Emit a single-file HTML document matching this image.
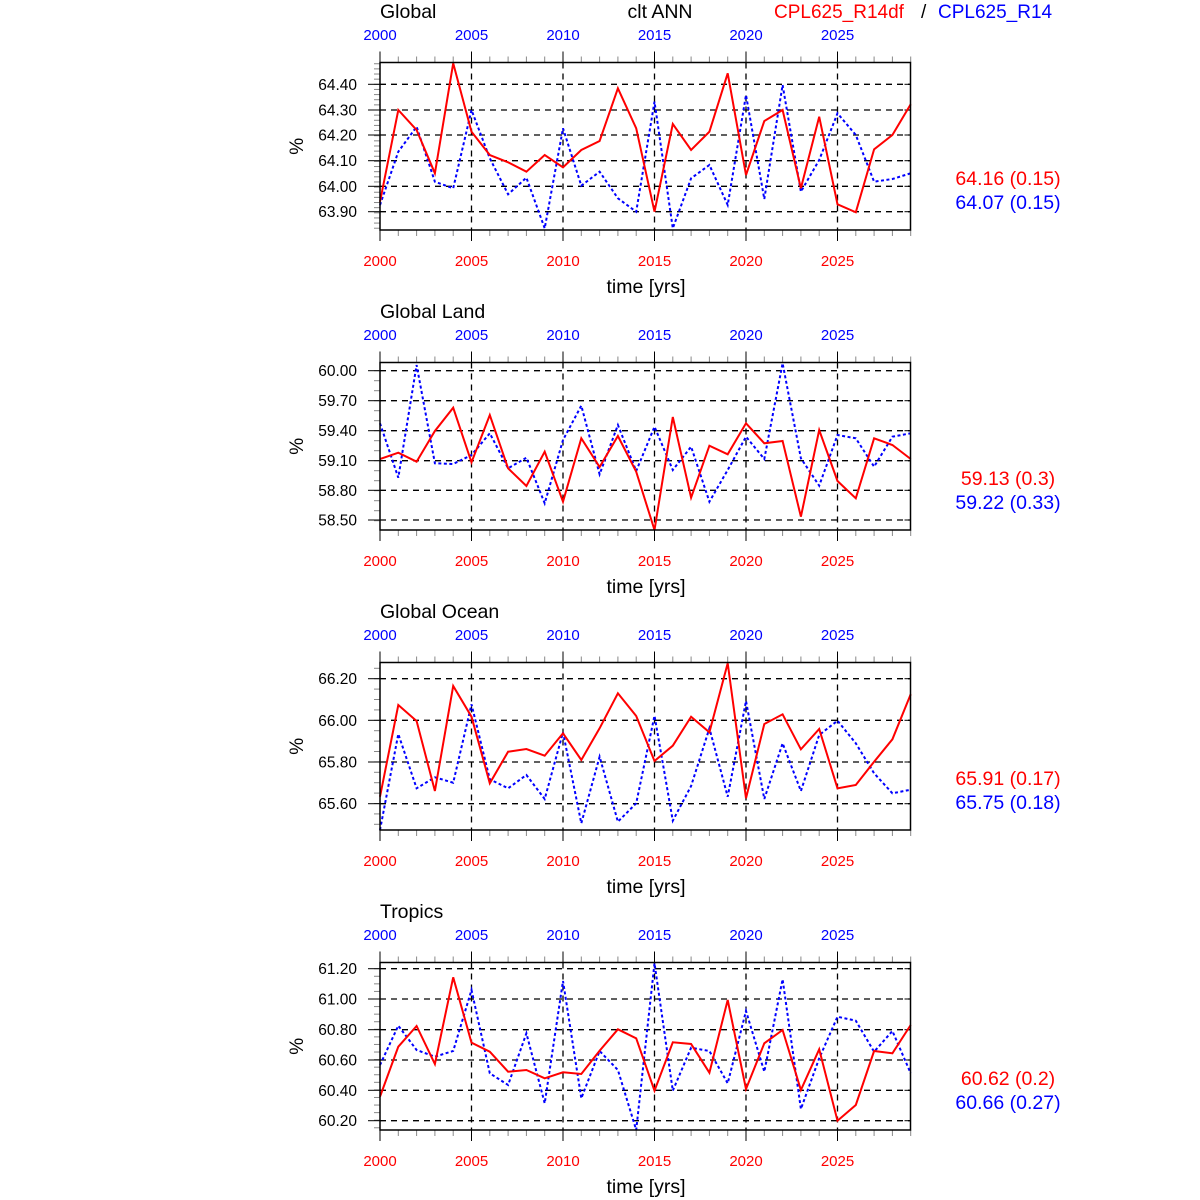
<!DOCTYPE html>
<html><head><meta charset="utf-8"><style>
html,body{margin:0;padding:0;background:#fff;}
svg{display:block;font-family:"Liberation Sans",Arial,sans-serif;}
</style></head><body>
<svg id="s" width="1200" height="1200" xmlns="http://www.w3.org/2000/svg">
<text x="380" y="18" font-size="19.5">Global</text>
<text x="660" y="18" font-size="19.5" text-anchor="middle">clt ANN</text>
<text x="774" y="18" font-size="19" fill="#f00">CPL625_R14df</text>
<text x="921" y="18" font-size="19">/</text>
<text x="938" y="18" font-size="19" fill="#00f">CPL625_R14</text>
</svg>
<script>
var S=document.getElementById('s'),NS='http://www.w3.org/2000/svg';
function el(t,a,txt){var e=document.createElementNS(NS,t);for(var k in a)e.setAttribute(k,a[k]);if(txt!==undefined)e.textContent=txt;S.appendChild(e);return e;}
var panels=[
{title:null,y0:55,grid:[84.3,110,135,160.7,186.3,211.7],labs:['64.40','64.30','64.20','64.10','64.00','63.90'],minor:5,
 red:[440,165,225,355,25,230,300,322,350,300,337,285,258,100,220,470,207,285,230,55,360,198,165,400,185,448,472,283,240,148],
 blue:[450,290,215,380,400,165,310,418,368,520,220,392,350,430,470,140,520,370,330,450,120,432,90,410,315,175,240,380,372,355],
 v1:'64.16 (0.15)',v2:'64.07 (0.15)'},
{title:'Global Land',y0:355,grid:[370.7,400.7,430.7,460.7,490.3,520],labs:['60.00','59.70','59.40','59.10','58.80','58.50'],minor:3,
 red:[312,293,320,228,158,322,180,340,393,290,440,250,336,243,350,525,186,428,272,298,205,265,258,485,225,378,430,250,270,312],
 blue:[205,368,30,325,327,300,235,340,308,445,255,152,358,210,348,215,345,275,440,345,245,312,25,310,392,240,250,335,245,235],
 v1:'59.13 (0.3)',v2:'59.22 (0.33)'},
{title:'Global Ocean',y0:655,grid:[678.7,720.3,762,803.7],labs:['66.20','66.00','65.80','65.60'],minor:4,
 red:[425,150,198,408,93,185,385,290,282,302,235,315,220,115,183,318,272,185,232,25,430,207,178,283,222,400,390,320,253,118],
 blue:[525,237,400,367,383,148,373,400,360,432,232,505,305,500,445,182,497,393,220,425,138,432,265,408,240,197,265,355,415,404],
 v1:'65.91 (0.17)',v2:'65.75 (0.18)'},
{title:'Tropics',y0:955,grid:[968.7,999,1029.7,1060,1090.3,1120.7],labs:['61.20','61.00','60.80','60.60','60.40','60.20'],minor:4,
 red:[425,275,213,327,67,263,290,350,345,370,352,357,287,223,250,407,262,267,353,135,402,265,225,405,283,497,450,288,295,210],
 blue:[330,212,285,305,288,105,355,390,235,445,78,430,288,345,525,25,407,278,288,385,168,350,73,462,310,185,197,290,228,355],
 v1:'60.62 (0.2)',v2:'60.66 (0.27)'}];
var X0=380,X1=910.5,DX=18.3;
panels.forEach(function(p,k){
 var top=p.y0+7.5,bot=p.y0+175,off=k*300;
 if(p.title)el('text',{x:380,y:off+18,'font-size':19.5},p.title);
 p.grid.forEach(function(g){el('line',{x1:X0,x2:X1,y1:g,y2:g,stroke:'#000','stroke-width':1.3,'stroke-dasharray':'6,5'});});
 for(var i=1;i<=5;i++){var x=X0+DX*5*i;el('line',{x1:x,x2:x,y1:top,y2:bot,stroke:'#000','stroke-width':1.3,'stroke-dasharray':'6,5'});}
 for(var i=0;i<=29;i++){var x=X0+DX*i,maj=i%5==0;
  el('line',{x1:x,x2:x,y1:top,y2:top-(maj?11:6),stroke:maj?'#000':'#888','stroke-width':1});
  el('line',{x1:x,x2:x,y1:bot,y2:bot+(maj?11:6),stroke:maj?'#000':'#888','stroke-width':1});
  if(maj){el('text',{x:x,y:off+40,'font-size':15,fill:'#00f','text-anchor':'middle'},2000+i);
   el('text',{x:x,y:off+266,'font-size':15,fill:'#f00','text-anchor':'middle'},2000+i);}}
 var sp=p.grid[1]-p.grid[0],ms=sp/p.minor;
 for(var y=p.grid[0]-Math.floor((p.grid[0]-top)/ms)*ms;y<=bot+0.1;y+=ms){
  el('line',{x1:X0,x2:X0-6,y1:y,y2:y,stroke:'#888','stroke-width':1});}
 p.grid.forEach(function(g,j){el('line',{x1:X0,x2:X0-12,y1:g,y2:g,stroke:'#000','stroke-width':1});
  el('line',{x1:X1,x2:X1-6,y1:g,y2:g,stroke:'#000','stroke-width':1});
  el('text',{x:357,y:g+5.5,'font-size':15.5,'text-anchor':'end'},p.labs[j]);});
 function pts(a){return a.map(function(z,i){return (X0+DX*i).toFixed(1)+','+(p.y0+z/3).toFixed(1);}).join(' ');}
 el('polyline',{points:pts(p.blue),fill:'none',stroke:'#00f','stroke-width':2,'stroke-dasharray':'3,2.5'});
 el('polyline',{points:pts(p.red),fill:'none',stroke:'#f00','stroke-width':2});
 el('rect',{x:X0,y:top,width:X1-X0,height:bot-top,fill:'none',stroke:'#000','stroke-width':1.5});
 el('text',{x:646,y:off+293,'font-size':19.5,'text-anchor':'middle'},'time [yrs]');
 var cy=(top+bot)/2;
 el('text',{x:0,y:0,'font-size':19,'text-anchor':'middle',transform:'translate(303,'+cy+') rotate(-90)'},'%');
 el('text',{x:1008,y:off+185,'font-size':19.5,fill:'#f00','text-anchor':'middle'},p.v1);
 el('text',{x:1008,y:off+209,'font-size':19.5,fill:'#00f','text-anchor':'middle'},p.v2);
});
</script>
</body></html>
